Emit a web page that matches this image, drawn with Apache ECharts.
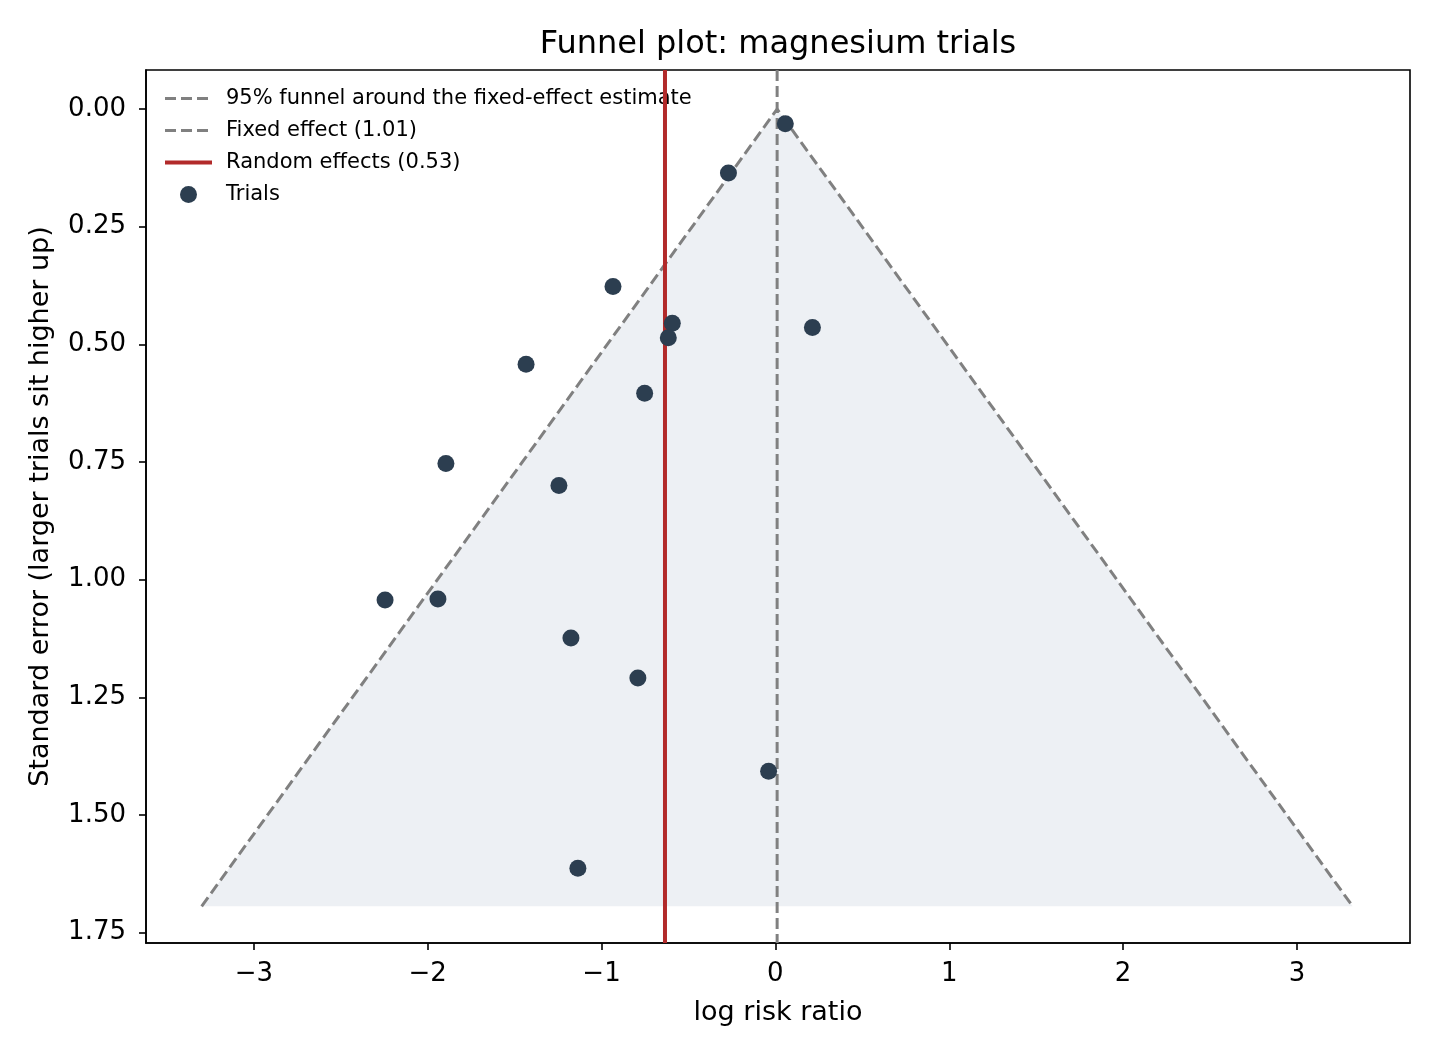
<!DOCTYPE html>
<html>
<head>
<meta charset="utf-8">
<title>Funnel plot: magnesium trials</title>
<script src="https://cdn.jsdelivr.net/npm/echarts@6/dist/echarts.min.js"></script>
<style>
html, body { margin: 0; padding: 0; background: #fff; }
#chart { width: 1440px; height: 1056px; }
</style>
</head>
<body>
<div id="chart"></div>
<script>
// trials: log risk ratio and its standard error
var logRR   = [0.057, -0.270, -0.934, -0.593, 0.213, -0.616, -1.434, -0.752,
               -1.895, -1.245, -2.245, -1.941, -1.176, -0.791, -0.039, -1.136];
var stdErr  = [0.031, 0.136, 0.377, 0.455, 0.464, 0.486, 0.542, 0.604,
               0.753, 0.800, 1.043, 1.041, 1.124, 1.209, 1.407, 1.613];

var fixedEffect  = 0.01;    // log(1.01)
var randomEffect = -0.635;  // log(0.53)

// funnel corners: bottom-left, apex, bottom-right
var funnelX  = [-3.30, 0.01, 3.32];
var funnelSE = [1.694, 0, 1.694];

var xTicks = [-3, -2, -1, 0, 1, 2, 3];
var yTicks = [0, 0.25, 0.5, 0.75, 1, 1.25, 1.5, 1.75];
var xRange = [-3.62, 3.65];
var yRange = [-0.083, 1.772];

var FONT = 'DejaVu Sans';

var trials = logRR.map(function (x, i) { return [x, stdErr[i]]; });
var funnelLine = funnelX.map(function (x, i) { return [x, funnelSE[i]]; });

var chart = echarts.init(document.getElementById('chart'), null, { renderer: 'canvas' });

// line-only legend entries: hide the dot that echarts puts in the middle
var noDot = { color: 'rgba(0,0,0,0)', borderWidth: 0, opacity: 0 };

chart.setOption({
    animation: false,
    backgroundColor: '#fff',
    title: {
        text: 'Funnel plot: magnesium trials',
        left: 773, top: 24, textAlign: 'center',
        textStyle: { fontFamily: FONT, fontSize: 32, fontWeight: 'normal', color: '#000' }
    },
    grid: {
        left: 146, right: 30, top: 70, bottom: 113,
        show: true, borderColor: '#000', borderWidth: 1.6, backgroundColor: 'transparent'
    },
    legend: {
        orient: 'vertical', left: 158, top: 83,
        itemWidth: 47, itemHeight: 17, itemGap: 11,
        lineStyle: { width: 'inherit', type: 'inherit' },
        data: [
            { name: '95% funnel around the fixed-effect estimate', itemStyle: noDot },
            { name: 'Fixed effect (1.01)', itemStyle: noDot },
            { name: 'Random effects (0.53)', itemStyle: noDot },
            { name: 'Trials', icon: 'circle' }
        ],
        textStyle: { fontFamily: FONT, fontSize: 21, color: '#000', padding: [0, 0, 0, 9] }
    },
    xAxis: {
        type: 'value', min: xRange[0], max: xRange[1],
        name: 'log risk ratio', nameLocation: 'middle', nameGap: 56,
        nameTextStyle: { fontFamily: FONT, fontSize: 27, color: '#000' },
        axisLine: { show: true, onZero: false, lineStyle: { color: '#000', width: 1.6 } },
        splitLine: { show: false },
        axisTick: { show: true, length: 7, lineStyle: { color: '#000', width: 1.6 }, customValues: xTicks },
        axisLabel: {
            customValues: xTicks, margin: 18,
            fontFamily: FONT, fontSize: 26, color: '#000',
            formatter: function (v) { return v < 0 ? '\u2212' + Math.abs(v) : String(v); }
        }
    },
    yAxis: {
        type: 'value', inverse: true, min: yRange[0], max: yRange[1],
        name: 'Standard error (larger trials sit higher up)', nameLocation: 'middle', nameGap: 92,
        nameTextStyle: { fontFamily: FONT, fontSize: 27, color: '#000' },
        axisLine: { show: true, onZero: false, lineStyle: { color: '#000', width: 1.6 } },
        splitLine: { show: false },
        axisTick: { show: true, length: 7, lineStyle: { color: '#000', width: 1.6 }, customValues: yTicks },
        axisLabel: {
            customValues: yTicks, margin: 20,
            fontFamily: FONT, fontSize: 26, color: '#000',
            formatter: function (v) { return v.toFixed(2); }
        }
    },
    series: [
        {
            type: 'custom',
            name: 'funnel area',
            silent: true,
            z: 1,
            data: [[0, 0]],
            renderItem: function (params, api) {
                var pts = funnelX.map(function (x, i) { return api.coord([x, funnelSE[i]]); });
                return { type: 'polygon', shape: { points: pts }, style: { fill: '#edf0f4' } };
            }
        },
        {
            type: 'line',
            name: '95% funnel around the fixed-effect estimate',
            data: funnelLine,
            symbol: 'none', z: 2,
            itemStyle: { color: '#808080' },
            lineStyle: { color: '#808080', width: 3, type: [11, 5] }
        },
        {
            type: 'line',
            name: 'Fixed effect (1.01)',
            data: [[fixedEffect, yRange[0]], [fixedEffect, yRange[1]]],
            symbol: 'none', z: 3,
            itemStyle: { color: '#808080' },
            lineStyle: { color: '#808080', width: 3, type: [11, 5] }
        },
        {
            type: 'line',
            name: 'Random effects (0.53)',
            data: [[randomEffect, yRange[0]], [randomEffect, yRange[1]]],
            symbol: 'none', z: 4,
            itemStyle: { color: '#b22a2a' },
            lineStyle: { color: '#b22a2a', width: 4 }
        },
        {
            type: 'scatter',
            name: 'Trials',
            data: trials,
            symbolSize: 17, z: 5,
            itemStyle: { color: '#2c3e50', opacity: 1 }
        }
    ]
});
</script>
</body>
</html>
